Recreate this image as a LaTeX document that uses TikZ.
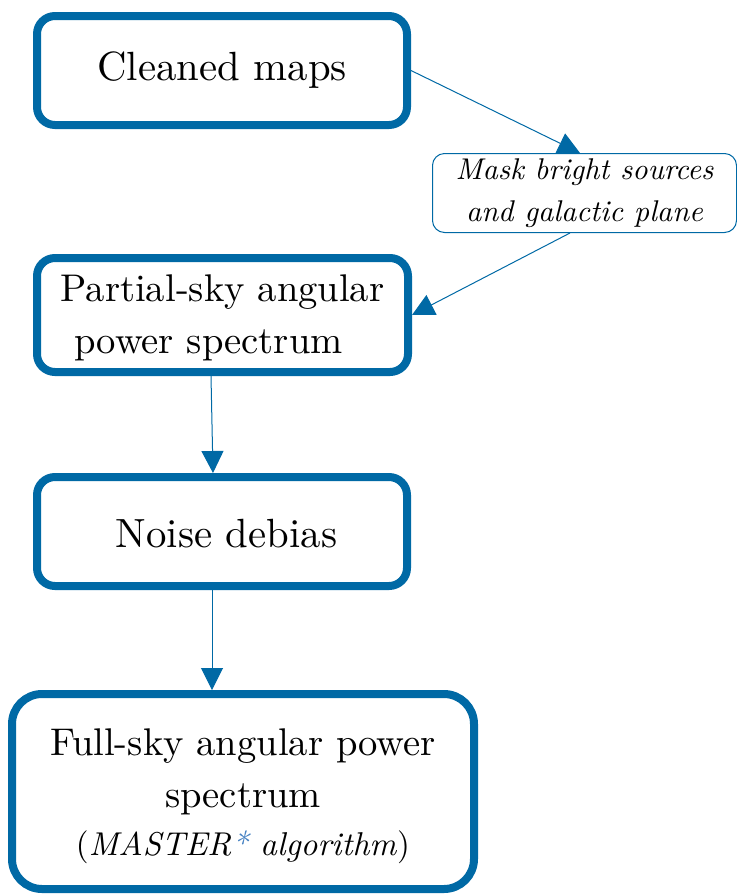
\documentclass[tikz,border=0pt]{standalone}
\usepackage{fontspec}
\setmainfont{lmroman10-regular}[Extension=.otf, ItalicFont=lmroman10-italic, BoldFont=lmroman10-bold]
\usetikzlibrary{arrows.meta}
\definecolor{mainblue}{RGB}{0,105,165}
\definecolor{starblue}{RGB}{70,130,195}
\begin{document}
\begin{tikzpicture}[x=0.5pt,y=-0.5pt,
  bigbox/.style={draw=mainblue, line width=4pt, rounded corners=9pt, fill=white,
    align=center, font=\fontsize{20.4}{26}\selectfont, inner sep=0pt},
  midfont/.style={font=\fontsize{19.3}{26}\selectfont},
  smallbox/.style={draw=mainblue, line width=0.5pt, rounded corners=6pt, fill=white,
    align=center, font=\fontsize{15}{21}\selectfont\itshape, inner sep=0pt},
  conn/.style={draw=mainblue, line width=0.5pt, -{Triangle[length=11pt,width=11pt]}}]
\useasboundingbox (0,0) rectangle (737,895);
\node[bigbox, minimum width=185pt, minimum height=54.5pt] (b1) at (222,70.5) {Cleaned maps};
\node[smallbox, minimum width=152pt, minimum height=39.5pt] (b2) at (584.5,193) {Mask bright sources\\and galactic plane};
\node[bigbox, midfont, minimum width=185.5pt, minimum height=57pt] (b3) at (222.5,315) {\rule{0pt}{16pt}Partial-sky angular\\power spectrum\kern14pt};
\node[bigbox, minimum width=185pt, minimum height=54.5pt] (b4) at (222,531.5) {\rule{0pt}{16pt}\kern4.5pt Noise debias};
\node[bigbox, midfont, rounded corners=15pt, minimum width=231pt, minimum height=97.5pt] (b5) at (243,791.5)
  {\rule{0pt}{18pt}Full-sky angular power\\spectrum\\[-2pt]{\fontsize{16.5}{24}\selectfont(\textit{MASTER\textcolor{starblue}{*} algorithm})}};
\draw[conn] (b1.east) -- ([xshift=-2.25pt]b2.north);
\draw[conn] ([xshift=-7.25pt]b2.south) -- (b3.east);
\draw[conn] ([xshift=-5.75pt]b3.south) -- ([xshift=-4.5pt]b4.north);
\draw[conn] ([xshift=-5pt]b4.south) -- ([xshift=-15.5pt]b5.north);
\end{tikzpicture}
\end{document}
